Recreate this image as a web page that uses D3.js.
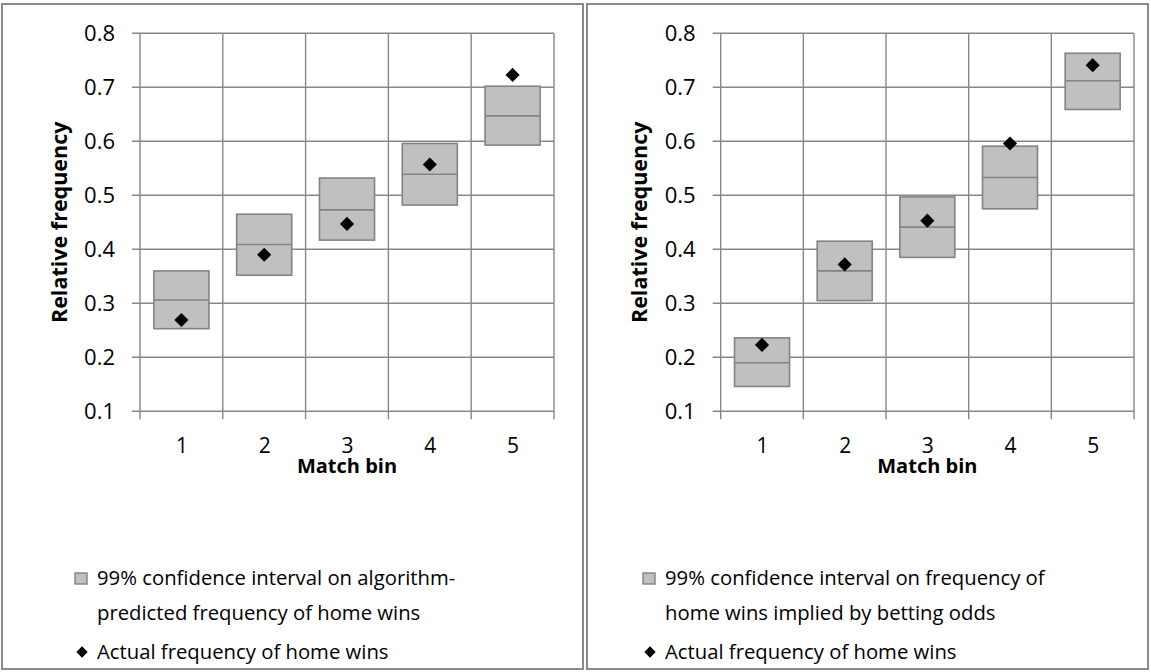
<!DOCTYPE html>
<html>
<head>
<meta charset="utf-8">
<script src="https://cdn.jsdelivr.net/npm/d3@7"></script>
<style>
  body { margin: 0; background: #fff; }
  svg { display: block; font-family: "Open Sans", "Noto Sans", sans-serif; }
</style>
</head>
<body>
<div id="chart"></div>
<script>
// Categories and tick labels
let bins = [1, 2, 3, 4, 5];
let yTicks = [0.1, 0.2, 0.3, 0.4, 0.5, 0.6, 0.7, 0.8];

// Left chart: algorithm-predicted 99% CI + actual frequency
let algoLow = [0.253, 0.352, 0.417, 0.482, 0.593];
let algoMid = [0.306, 0.409, 0.473, 0.539, 0.647];
let algoHigh = [0.360, 0.465, 0.532, 0.596, 0.702];
let algoActual = [0.269, 0.390, 0.447, 0.557, 0.723];

// Right chart: betting-odds 99% CI + actual frequency
let oddsLow = [0.146, 0.305, 0.385, 0.475, 0.659];
let oddsMid = [0.190, 0.360, 0.441, 0.533, 0.712];
let oddsHigh = [0.236, 0.415, 0.497, 0.591, 0.763];
let oddsActual = [0.223, 0.372, 0.453, 0.596, 0.741];

// Legend texts
let algoLegend = ["99% confidence interval on algorithm-", "predicted frequency of home wins"];
let oddsLegend = ["99% confidence interval on frequency of", "home wins implied by betting odds"];
let actualLegend = "Actual frequency of home wins";

let width = 1151;
let height = 672;
let gridColor = "#878787";
let boxFill = "#c0c0c0";
let boxStroke = "#838383";
let boxWidth = 0.665; // share of one bin

let svg = d3.select("#chart").append("svg")
  .attr("width", width)
  .attr("height", height);

// Draw one panel: frame, plot, legend
function drawPanel(opt) {
  let g = svg.append("g");

  // panel frame
  g.append("rect")
    .attr("x", opt.frame[0])
    .attr("y", 4)
    .attr("width", opt.frame[1] - opt.frame[0])
    .attr("height", 665)
    .attr("fill", "none")
    .attr("stroke", "#8a8a8a")
    .attr("stroke-width", 2);

  let x = d3.scaleLinear().domain([0.5, 5.5]).range([opt.plotX0, opt.plotX1]);
  let y = d3.scaleLinear().domain([0.1, 0.8]).range([411.3, 33.3]);

  // horizontal gridlines (extend left as ticks)
  g.append("g")
    .selectAll("line")
    .data(yTicks)
    .enter()
    .append("line")
    .attr("x1", x(0.5) - 8)
    .attr("x2", x(5.5))
    .attr("y1", d => y(d))
    .attr("y2", d => y(d))
    .attr("stroke", gridColor)
    .attr("stroke-width", 1.4);

  // vertical gridlines at bin boundaries (extend down as ticks)
  g.append("g")
    .selectAll("line")
    .data(d3.range(0.5, 5.6, 1))
    .enter()
    .append("line")
    .attr("x1", d => x(d))
    .attr("x2", d => x(d))
    .attr("y1", y(0.8))
    .attr("y2", y(0.1) + 8)
    .attr("stroke", gridColor)
    .attr("stroke-width", 1.4);

  // y tick labels
  let yAxis = g.append("g")
    .attr("transform", `translate(${x(0.5)},0)`)
    .call(d3.axisLeft(y).tickValues(yTicks).tickFormat(d3.format(".1f")).tickSize(0).tickPadding(25));
  yAxis.select(".domain").remove();
  yAxis.selectAll(".tick text")
    .attr("font-size", "22px")
    .attr("font-family", "'Open Sans', sans-serif")
    .attr("fill", "#000");

  // x tick labels
  let xAxis = g.append("g")
    .attr("transform", `translate(0,${y(0.1)})`)
    .call(d3.axisBottom(x).tickValues(bins).tickFormat(d3.format("d")).tickSize(0).tickPadding(27));
  xAxis.select(".domain").remove();
  xAxis.selectAll(".tick text")
    .attr("font-size", "21px")
    .attr("font-family", "'Open Sans', sans-serif")
    .attr("fill", "#000");

  // axis titles
  g.append("text")
    .attr("transform", `translate(${opt.yTitleX},${(y(0.1) + y(0.8)) / 2}) rotate(-90)`)
    .attr("text-anchor", "middle")
    .attr("font-size", "21.5px")
    .attr("font-weight", "bold")
    .attr("fill", "#000")
    .text("Relative frequency");

  g.append("text")
    .attr("x", (x(0.5) + x(5.5)) / 2)
    .attr("y", 473)
    .attr("text-anchor", "middle")
    .attr("font-size", "20px")
    .attr("font-weight", "bold")
    .attr("fill", "#000")
    .text("Match bin");

  // confidence boxes
  let boxes = g.append("g")
    .selectAll("g")
    .data(bins)
    .enter()
    .append("g");

  boxes.append("rect")
    .attr("x", (d) => x(d - boxWidth / 2))
    .attr("width", x(1 + boxWidth) - x(1))
    .attr("y", (d, i) => y(opt.high[i]))
    .attr("height", (d, i) => y(opt.low[i]) - y(opt.high[i]))
    .attr("fill", boxFill)
    .attr("stroke", boxStroke)
    .attr("stroke-width", 1.6);

  boxes.append("line")
    .attr("x1", (d) => x(d - boxWidth / 2))
    .attr("x2", (d) => x(d + boxWidth / 2))
    .attr("y1", (d, i) => y(opt.mid[i]))
    .attr("y2", (d, i) => y(opt.mid[i]))
    .attr("stroke", boxStroke)
    .attr("stroke-width", 1.6);

  // actual frequency markers
  let diamond = d3.symbol(d3.symbolSquare, 100);
  g.append("g")
    .selectAll("path")
    .data(bins)
    .enter()
    .append("path")
    .attr("d", diamond)
    .attr("transform", (d, i) => `translate(${x(d)},${y(opt.actual[i])}) rotate(45)`)
    .attr("fill", "#000");

  // legend
  let lg = g.append("g");
  lg.append("rect")
    .attr("x", opt.legendX)
    .attr("y", 573)
    .attr("width", 12)
    .attr("height", 11)
    .attr("fill", boxFill)
    .attr("stroke", boxStroke)
    .attr("stroke-width", 1.4);

  lg.append("text")
    .attr("x", opt.legendX + 22)
    .attr("y", 585)
    .attr("font-size", "20.3px")
    .attr("fill", "#000")
    .selectAll("tspan")
    .data(opt.legend)
    .enter()
    .append("tspan")
    .attr("x", opt.legendX + 22)
    .attr("dy", (d, i) => i === 0 ? 0 : 35)
    .text(d => d);

  lg.append("path")
    .attr("d", d3.symbol(d3.symbolSquare, 64))
    .attr("transform", `translate(${opt.legendX + 7},652) rotate(45)`)
    .attr("fill", "#000");

  lg.append("text")
    .attr("x", opt.legendX + 22)
    .attr("y", 659)
    .attr("font-size", "20.3px")
    .attr("fill", "#000")
    .text(actualLegend);
}

drawPanel({
  frame: [2, 583],
  plotX0: 140, plotX1: 554,
  yTitleX: 67,
  low: algoLow, mid: algoMid, high: algoHigh, actual: algoActual,
  legend: algoLegend,
  legendX: 75
});

drawPanel({
  frame: [587, 1148],
  plotX0: 720.7, plotX1: 1134,
  yTitleX: 647,
  low: oddsLow, mid: oddsMid, high: oddsHigh, actual: oddsActual,
  legend: oddsLegend,
  legendX: 643
});
</script>
</body>
</html>
